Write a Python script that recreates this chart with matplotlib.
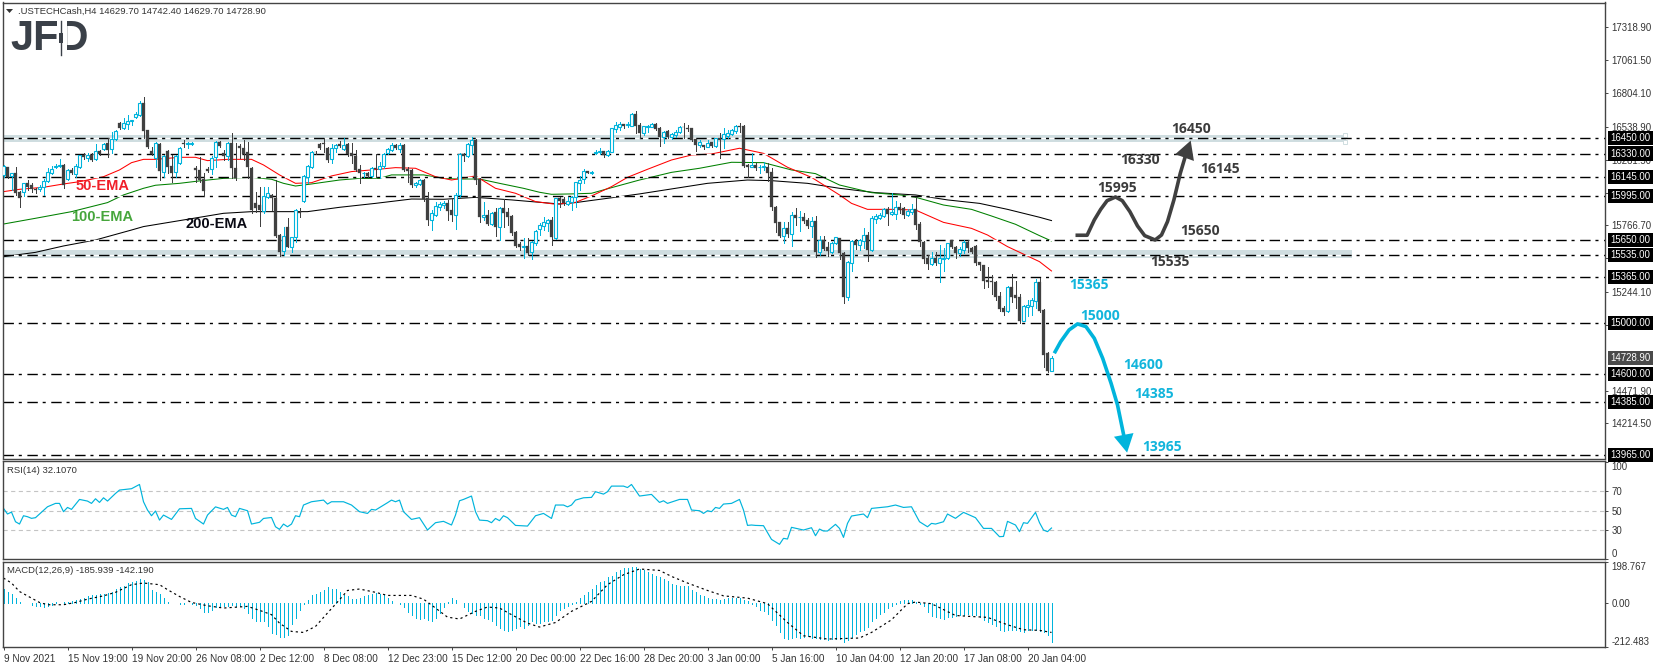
import numpy as np
import matplotlib
matplotlib.use("Agg")
import matplotlib.pyplot as plt
from matplotlib.patches import Rectangle, Polygon

plt.rcParams['font.family'] = ['Liberation Sans', 'DejaVu Sans']
plt.rcParams['lines.scale_dashes'] = False

W, H = 1655, 668

# velas H4
opens = [
    16163,16223,16155,16180,16032,16032,16103,16084,16050,16053,
    16071,16115,16175,16225,16230,16241,16129,16202,16170,16223,
    16319,16293,16319,16285,16350,16366,16411,16364,16445,16573,
    16528,16565,16585,16620,16633,16724,16515,16350,16293,16406,
    16189,16350,16233,16183,16260,16416,16403,16406,16220,16202,
    16131,16207,16210,16300,16424,16338,16314,16416,16220,16393,
    16372,16345,16220,15940,15927,15883,15993,16006,15985,15692,
    15569,15752,15601,15674,15875,15960,16149,16228,16345,16403,
    16416,16372,16285,16372,16403,16364,16406,16332,16311,16207,
    16176,16181,16157,16215,16207,16236,16332,16359,16398,16366,
    16400,16210,16202,16084,16092,16123,15980,15810,15849,15909,
    15927,15940,15888,15849,16002,16327,16315,16398,16437,16131,
    15836,15849,15778,15875,15758,15901,15870,15841,15713,15621,
    15595,15606,15556,15630,15737,15763,15789,15810,15671,15980,
    15975,15935,15953,15987,16102,16129,16194,16179,16332,16345,
    16350,16319,16345,16520,16541,16560,16552,16549,16640,16555,
    16490,16541,16541,16562,16528,16463,16507,16458,16476,16502,
    16541,16528,16528,16442,16400,16398,16385,16419,16390,16450,
    16442,16470,16484,16507,16547,16547,16241,16225,16241,16226,
    16222,16228,16189,15914,15792,15684,15747,15700,15849,15832,
    15831,15810,15763,15802,15561,15653,15601,15561,15627,15666,
    15554,15204,15475,15645,15614,15648,15692,15575,15815,15828,
    15841,15893,15857,15857,15909,15906,15849,15872,15896,15776,
    15640,15515,15465,15515,15470,15505,15510,15653,15600,15548,
    15575,15637,15590,15606,15480,15457,15340,15332,15327,15214,
    15118,15099,15285,15222,15204,15020,15125,15136,15178,15324,
    15104,14764,14629.7]
highs = [
    16240,16225,16180,16223,16035,16103,16123,16097,16060,16084,
    16129,16215,16233,16250,16285,16245,16212,16215,16250,16320,
    16332,16332,16332,16403,16359,16411,16450,16497,16515,16580,
    16607,16633,16595,16660,16743,16775,16515,16380,16420,16411,
    16320,16359,16319,16320,16380,16437,16419,16419,16233,16306,
    16175,16223,16311,16432,16430,16359,16424,16489,16411,16406,
    16437,16424,16225,16032,16071,16071,16071,16010,16123,15700,
    15758,15823,15680,15893,15901,16162,16240,16350,16350,16411,
    16450,16385,16406,16406,16425,16450,16416,16411,16359,16241,
    16189,16189,16228,16327,16267,16332,16372,16411,16403,16416,
    16406,16228,16207,16110,16131,16131,16027,15888,15953,15953,
    15961,15966,15974,16019,16338,16338,16411,16463,16445,16136,
    15953,15888,15875,15901,15909,15972,15901,15849,15720,15640,
    15666,15666,15645,15735,15785,15835,15815,15835,15985,15993,
    15988,15990,15998,16110,16155,16207,16196,16192,16355,16372,
    16352,16355,16533,16580,16580,16562,16580,16651,16664,16568,
    16550,16555,16572,16572,16535,16510,16515,16489,16515,16548,
    16568,16555,16533,16445,16437,16400,16437,16424,16455,16489,
    16528,16515,16520,16555,16568,16555,16245,16332,16260,16241,
    16267,16260,16215,15916,15797,15797,15797,15875,15906,15880,
    15862,15823,15836,15841,15684,15684,15640,15637,15679,15670,
    15558,15485,15650,15658,15658,15745,15718,15841,15854,15862,
    15901,15914,16019,15961,15940,15914,15893,15933,15993,15797,
    15645,15535,15561,15556,15614,15588,15630,15655,15606,15601,
    15653,15653,15601,15614,15483,15460,15444,15379,15330,15248,
    15136,15292,15386,15334,15230,15142,15180,15196,15345,15353,
    15110,14777,14742.4]
lows = [
    16150,16135,16045,16005,15910,16000,16045,16032,16025,16040,
    16005,16110,16170,16215,16222,16060,16123,16170,16145,16220,
    16288,16275,16272,16280,16320,16359,16306,16332,16440,16520,
    16520,16520,16555,16612,16625,16450,16377,16320,16223,16123,
    16145,16176,16105,16145,16245,16379,16372,16395,16110,16105,
    16000,16189,16170,16223,16385,16280,16280,16136,16123,16293,
    16280,16136,15862,15875,15763,15862,15985,15888,15675,15530,
    15535,15595,15555,15640,15830,15953,16097,16220,16330,16364,
    16345,16267,16254,16345,16385,16359,16311,16254,16190,16097,
    16144,16150,16150,16150,16136,16215,16325,16354,16364,16345,
    16190,16110,16066,16066,16084,15961,15770,15731,15841,15888,
    15901,15810,15805,15739,15993,16275,16306,16327,16092,15797,
    15810,15771,15771,15684,15653,15752,15771,15692,15595,15575,
    15510,15535,15505,15610,15690,15730,15720,15614,15660,15914,
    15927,15925,15888,15914,16045,16102,16176,16170,16325,16327,
    16306,16312,16340,16500,16515,16528,16541,16545,16495,16455,
    16476,16500,16535,16515,16392,16416,16450,16442,16463,16495,
    16450,16510,16430,16350,16385,16364,16380,16385,16380,16293,
    16377,16450,16476,16489,16500,16225,16144,16222,16202,16181,
    16202,16118,15885,15718,15674,15632,15680,15609,15770,15724,
    15789,15750,15679,15522,15535,15575,15528,15548,15620,15504,
    15162,15183,15410,15580,15575,15593,15488,15570,15784,15815,
    15836,15770,15850,15815,15862,15828,15841,15857,15737,15606,
    15470,15426,15460,15460,15326,15410,15500,15590,15514,15528,
    15548,15560,15554,15457,15418,15274,15287,15230,15183,15099,
    15065,15091,15170,15118,15000,15015,15057,15065,15120,15087,
    14660,14615,14629.7]
closes = [
    16233,16144,16175,16019,15985,16097,16071,16050,16042,16071,
    16118,16183,16212,16236,16238,16084,16202,16176,16230,16317,
    16306,16319,16280,16350,16325,16406,16359,16445,16510,16528,
    16573,16583,16593,16640,16730,16510,16385,16325,16411,16194,
    16314,16228,16181,16311,16372,16406,16411,16411,16202,16123,
    16040,16197,16293,16424,16393,16314,16416,16215,16136,16372,
    16327,16223,15888,15901,15888,16000,16019,15985,15684,15561,
    15684,15601,15674,15888,15862,16157,16233,16345,16340,16372,
    16406,16280,16372,16398,16393,16400,16327,16311,16202,16176,
    16181,16155,16215,16207,16236,16325,16364,16398,16372,16398,
    16202,16197,16084,16103,16123,15972,15810,15862,15920,15935,
    15940,15880,15849,16006,16327,16315,16406,16437,16123,15831,
    15849,15778,15862,15758,15901,15862,15836,15705,15606,15601,
    15606,15549,15640,15725,15771,15797,15810,15679,15980,15961,
    15940,15959,15993,16105,16123,16194,16181,16184,16345,16352,
    16319,16350,16528,16555,16565,16547,16560,16640,16549,16495,
    16547,16549,16562,16520,16463,16502,16463,16481,16502,16541,
    16535,16520,16437,16398,16421,16380,16411,16390,16450,16437,
    16484,16494,16515,16547,16536,16233,16225,16241,16215,16228,
    16233,16181,15909,15789,15684,15747,15700,15846,15828,15834,
    15802,15763,15802,15556,15653,15582,15567,15630,15674,15549,
    15204,15481,15645,15614,15653,15692,15575,15823,15840,15849,
    15893,15857,15875,15909,15888,15849,15880,15896,15771,15640,
    15504,15465,15509,15470,15509,15512,15627,15595,15548,15582,
    15637,15588,15562,15475,15457,15334,15327,15321,15204,15112,
    15091,15287,15209,15196,15018,15136,15141,15183,15321,15100,
    14750,14628,14728.9]

# medias moviles
ema50_x = [0,4,10,15,19,25,29,32,35,38,44,48,51,56,62,65,69,73,77,82,87,92,98,103,108,112,118,123,128,133,
           138,143,147,152,156,161,167,172,177,184,190,196,202,209,212,216,222,228,235,242,246,251,259,262]
ema50_y = [16032,16050,16066,16092,16110,16149,16202,16259,16285,16285,16301,16301,16275,16285,16285,16241,16163,16097,16102,16155,
           16189,16202,16220,16215,16149,16123,16155,16058,16019,15954,
           15933,15948,15998,16071,16144,16207,16280,16319,16327,16372,16332,16223,16144,16006,15940,15893,15893,15888,15791,15744,15692,15601,15483,15410]
ema100_x = [0,8,17,26,30,35,38,44,49,55,62,67,70,73,77,84,89,94,97,105,110,114,119,124,130,134,137,142,147,152,159,167,174,182,190,197,203,209,217,224,228,235,242,247,253,259,262]
ema100_y = [15778,15823,15875,15946,16006,16058,16082,16097,16116,16136,16144,16129,16097,16076,16092,16123,16136,16136,16163,16163,16136,16131,16131,16097,16058,
            16027,16011,16014,16019,16063,16123,16183,16215,16262,16259,16202,16173,16084,16024,16006,15988,15927,15893,15841,15776,15687,15645]
ema200_x = [0,8,15,23,32,35,46,55,62,70,76,84,93,102,110,118,127,139,143,153,159,167,176,186,192,201,209,218,228,236,244,251,259,262]
ema200_y = [15522,15556,15606,15653,15731,15758,15815,15862,15875,15875,15875,15909,15940,15974,15972,15987,15967,15935,
            15946,15988,16014,16053,16097,16123,16118,16097,16058,16024,16006,15967,15940,15893,15831,15805]

# niveles
levels = [16450,16330,16145,15995,15650,15535,15365,15000,14600,14385,13965]
zone_upper = (16424, 16476)
zone_lower = (15515, 15575)

price_ticks = [17318.90,17061.50,16804.10,16538.90,16281.50,16024.10,15766.70,15509.30,15244.10,14986.70,14471.90,14214.50]

# RSI
rsi_x = [0,1,2,3,4,5,6,7,8,9,11,13,14,15,16,17,19,21,22,23,24,25,26,28,29,32,34,35,36,37,38,39,40,42,44,47,48,50,51,53,55,56,57,58,59,61,62,64,65,67,68,69,70,71,72,73,74,75,77,80,81,82,85,87,89,91,92,93,96,97,98,99,100,102,104,106,108,110,112,113,114,115,117,118,119,121,122,123,124,125,126,128,131,133,
         135,137,138,140,141,142,143,145,147,148,150,151,152,155,156,157,159,162,164,165,166,169,171,172,174,175,176,177,178,179,180,182,184,185,186,187,188,190,192,194,195,196,197,200,202,203,204,205,206,208,209,210,211,212,215,216,217,221,223,225,227,229,231,232,233,235,236,238,240,243,245,247,249,250,251,253,254,255,256,258,259,260,261,262]
rsi_y = [52.4,46.6,48.6,38.6,36.2,44.8,43.8,42.1,42.8,46.6,54.1,57.6,57.6,49,53.4,51.4,61.7,60,57.6,62.4,58.6,63.4,60,67.9,71.4,72.8,77.2,59.3,50.7,44.8,49.7,40.3,45.5,41,52,52.4,42,36.2,45.5,54,51.4,53.4,45.5,43.8,52.4,50,36.2,38,42,43,33.4,30.7,36.2,33.4,36.2,44.8,43.8,55.9,59.3,61,56.9,59.3,59.3,55.9,49,47.2,51.4,50.7,58.3,61,59.3,61,49,41,42.8,30,37.6,39,35.2,45.5,60.3,61.7,65.2,49,40.3,39.7,37.6,42,39.7,44.8,42.8,34.8,34.1,44.8,
         47.2,42,55.9,55.9,54,55.9,61,63.4,63.8,69.7,67.2,69.7,75.5,75.5,74,77.2,65.2,66.9,58.6,60.3,57.6,61.7,61.7,50.7,50,47.2,50,49,53.4,52.4,56.9,57.6,61.7,50.7,34.8,35.2,34.8,34.5,20.3,15.2,21.4,20.7,32.8,30,32.4,24.1,31,29,29,35.9,31.7,22.4,36.9,44.5,46.6,42.8,52.4,54.1,55.9,53.4,54.1,38.6,33.4,36.9,36.2,38.6,46.6,42.1,48.3,42.8,31.7,31.7,23.1,23.4,39,35.2,28.3,37.6,36.9,48.3,37.6,30,28.3,32.1]
rsi_levels = [70, 50, 30]

# MACD
macd_hist = [
    68,53,45,27,6,0,-2,-8,-13,-16,
    -19,-16,-8,3,0,3,5,8,16,21,
    24,32,37,37,44,45,48,56,68,77,
    84,97,100,108,116,110,100,65,56,45,
    24,3,2,0,-3,-5,0,-3,-8,-24,
    -44,-45,-32,-21,-16,-13,-16,-11,-13,-16,
    -24,-48,-73,-89,-89,-89,-113,-145,-150,-166,
    -166,-153,-103,-73,-32,-3,16,39,45,52,
    65,77,68,68,56,40,32,21,19,24,
    32,40,45,48,45,37,24,8,0,-3,
    -19,-45,-56,-73,-77,-73,-84,-89,-73,-48,
    -19,3,24,16,0,-19,-40,-48,-60,-60,
    -73,-77,-85,-105,-121,-129,-134,-129,-121,-113,
    -121,-105,-89,-97,-94,
    -89,-89,-81,-56,-35,-24,-13,-3,3,24,
    37,56,68,89,102,108,126,132,148,161,
    169,169,176,173,165,158,148,142,132,124,
    116,105,92,89,84,84,81,65,52,40,
    32,24,21,21,16,19,24,27,27,24,
    16,8,-3,-16,-32,-40,-52,-81,-108,-140,
    -169,-173,-169,-165,-169,-165,-161,-169,-169,-173,
    -173,-177,-173,-173,-174,-190,-181,-165,-150,-137,
    -129,-116,-89,-73,-52,-45,-24,-16,-3,8,
    13,15,15,3,-3,-16,-45,-61,-68,-73,
    -76,-69,-65,-61,-60,-56,-53,-56,-56,-69,
    -84,-92,-102,-113,-129,-134,-129,-129,-132,-134,
    -139,-129,-129,-129,-137,-142,-155,-186]
signal_x = [0,2,4,7,9,11,15,18,21,25,28,32,35,39,41,44,47,51,55,61,64,67,69,72,75,78,81,84,86,89,93,96,102,105,108,111,114,118,121,124,127,131,134,138,142,147,151,155,159,164,167,171,176,180,186,191,196,200,206,214,217,222,226,228,232,238,242,246,251,255,259,262]
signal_y = [121,97,56,24,3,-8,-8,3,19,35,52,89,97,89,65,32,3,-13,-24,-16,-35,-56,-97,-137,-142,-113,-48,16,61,68,52,37,37,19,-24,-68,-77,-40,-19,-24,-56,-97,-116,-94,-40,8,89,137,165,158,129,97,61,35,24,-3,-94,-158,-174,-169,-142,-81,-3,5,-3,-60,-65,-69,-105,-129,-132,-142]

# eje de tiempo
time_labels = ["9 Nov 2021","15 Nov 19:00","19 Nov 20:00","26 Nov 08:00","2 Dec 12:00","8 Dec 08:00","12 Dec 23:00",
               "15 Dec 12:00","20 Dec 00:00","22 Dec 16:00","28 Dec 20:00","3 Jan 00:00","5 Jan 16:00","10 Jan 04:00",
               "12 Jan 20:00","17 Jan 08:00","20 Jan 04:00"]

# flechas del escenario
up_path_x = [268,270.9,272.7,274.3,275.9,278,279.7,281.6,283.5,285.3,287.9,289.5,291,292.6,294.2,295.8]
up_path_y = [15690,15690,15810,15893,15961,15990,15961,15875,15763,15687,15653,15692,15797,15967,16176,16345]
down_path_x = [262.7,264.3,266.4,268.5,270.6,272.7,274.8,276.9,278.5,279.7,280.3]
down_path_y = [14765,14856,14948,14995,14974,14882,14725,14529,14360,14177,14085]

CYAN = '#00b4dc'
DARK = '#404040'
FRAME = '#444444'
BAND = '#cfdde0'


def panel(top, bottom, left=2.5, right=1604.5):
    ax = fig.add_axes([left / W, 1 - bottom / H, (right - left) / W, (bottom - top) / H])
    for s in ax.spines.values():
        s.set_color(FRAME)
        s.set_linewidth(1.0)
    ax.set_xlim(-0.25, 400.25)
    ax.yaxis.tick_right()
    ax.tick_params(axis='y', length=2.5, width=0.7, color=FRAME, labelsize=6.9, pad=2.5, labelcolor='#333333')
    ax.set_xticks([])
    return ax


fig = plt.figure(figsize=(W / 100, H / 100), dpi=100, facecolor='white')
ax_main = panel(2.5, 458.5)
ax_rsi = panel(461, 559)
ax_macd = panel(562, 647)

# panel principal
ax_main.set_ylim(13940, 17514.5)
ax_main.axhspan(*zone_upper, xmax=(335.5 + 0.25) / 400.5, color=BAND, lw=0, zorder=0)
ax_main.axhspan(*zone_lower, xmax=(337 + 0.25) / 400.5, color=BAND, lw=0, zorder=0)
ax_main.plot([335.3, 335.3], zone_upper, ls='', marker='s', ms=3, mfc='white', mec=BAND, mew=0.7, zorder=1)

ax_main.plot(ema200_x, ema200_y, color='black', lw=0.75, zorder=1)
ax_main.plot(ema100_x, ema100_y, color='#008000', lw=0.75, zorder=1)
ax_main.plot(ema50_x, ema50_y, color='#ff0000', lw=0.75, zorder=1)

for lv in levels:
    ax_main.axhline(lv, color='black', lw=1.0, ls=(0, (7.5, 3.5, 2.2, 4.0)), gapcolor='white', zorder=2)

x = np.arange(len(opens))
o, h, l, c = map(np.array, (opens, highs, lows, closes))
assert len(o) == len(h) == len(l) == len(c) == 263
up = c >= o
ax_main.vlines(x[up], l[up], h[up], color=CYAN, lw=0.68, antialiased=False, zorder=3)
ax_main.vlines(x[~up], l[~up], h[~up], color=DARK, lw=0.68, antialiased=False, zorder=3)
ax_main.bar(x[up], (c - o)[up], bottom=o[up], width=0.55, facecolor='white', edgecolor=CYAN, linewidth=0.8, zorder=4)
ax_main.bar(x[~up], (c - o)[~up], bottom=o[~up], width=0.72, facecolor=DARK, edgecolor=DARK, linewidth=0.2, zorder=4)

# flechas
ax_main.plot(up_path_x, up_path_y, color=DARK, lw=2.6, solid_capstyle='butt', solid_joinstyle='round', zorder=5)
ax_main.annotate('', xy=(296.8, 16432), xytext=(295.8, 16345), zorder=5,
                 arrowprops=dict(arrowstyle='-|>,head_length=1.0,head_width=0.55', color=DARK, lw=0, mutation_scale=13, shrinkA=0, shrinkB=0))
ax_main.plot(down_path_x, down_path_y, color=CYAN, lw=2.6, solid_capstyle='butt', solid_joinstyle='round', zorder=5)
ax_main.annotate('', xy=(280.9, 13986), xytext=(280.3, 14085), zorder=5,
                 arrowprops=dict(arrowstyle='-|>,head_length=1.0,head_width=0.55', color=CYAN, lw=0, mutation_scale=13, shrinkA=0, shrinkB=0))

ax_main.set_yticks(price_ticks)
ax_main.set_yticklabels([f"{t:.2f}" for t in price_ticks])

# etiquetas negras de precio
for lv in levels:
    ax_main.text(1.0038, lv, f"{lv:.2f}", transform=ax_main.get_yaxis_transform(), color='white', fontsize=6.9,
                 va='center', ha='left', zorder=20, clip_on=False,
                 bbox=dict(boxstyle='square,pad=0.22', fc='black', ec='none'))
ax_main.text(1.0038, closes[-1], f"{closes[-1]:.2f}", transform=ax_main.get_yaxis_transform(), color='white', fontsize=6.9,
             va='center', ha='left', zorder=20, clip_on=False,
             bbox=dict(boxstyle='square,pad=0.22', fc='#4a4a4a', ec='none'))

# RSI
ax_rsi.set_ylim(0, 101.5)
for lv in rsi_levels:
    ax_rsi.axhline(lv, color='#c4c4c4', lw=0.8, ls=(0, (3, 2.5)))
ax_rsi.plot(rsi_x, rsi_y, color=CYAN, lw=0.85)
ax_rsi.set_yticks([100, 70, 50, 30, 0])
ax_rsi.set_yticklabels(['100', '70', '50', '30', '0'])
ax_rsi.get_yticklabels()[0].set_va('top')
ax_rsi.get_yticklabels()[-1].set_va('bottom')

# MACD
ax_macd.set_ylim(-212.483, 198.767)
ax_macd.vlines(np.arange(len(macd_hist)), 0, macd_hist, color=CYAN, lw=0.68, antialiased=False)
ax_macd.plot(signal_x, signal_y, color='black', lw=0.85, ls=(0, (1.6, 2.2)))
ax_macd.set_yticks([198.767, 0, -212.483])
ax_macd.set_yticklabels(['198.767', '0.00', '-212.483'])
ax_macd.get_yticklabels()[0].set_va('top')
ax_macd.get_yticklabels()[-1].set_va('bottom')

time_ticks = np.arange(len(time_labels)) * 16
ax_macd.set_xticks(time_ticks)
ax_macd.set_xticklabels(time_labels, ha='left', fontsize=7.2, color='#333333')
ax_macd.tick_params(axis='x', length=2.5, width=0.7, color=FRAME, pad=2.5)

# capa de textos en pixeles
ov = fig.add_axes([0, 0, 1, 1], zorder=30, facecolor='none')
ov.set_xlim(0, W)
ov.set_ylim(H, 0)
ov.axis('off')

ov.add_patch(Polygon([[6, 9], [13, 9], [9.5, 13]], closed=True, fc='#333333', ec='none'))
ov.text(18.5, 11, ".USTECHCash,H4 14629.70 14742.40 14629.70 14728.90", fontsize=6.8, color='#333333', va='center')
ov.text(7, 470.7, "RSI(14) 32.1070", fontsize=6.8, color='#333333', va='center')
ov.text(7, 570.7, "MACD(12,26,9) -185.939 -142.190", fontsize=6.8, color='#333333', va='center')

# logo
LOGO = '#3a4048'
ov.text(10, 38.5, "JFD", fontsize=30, fontweight='bold', color=LOGO, va='center', ha='left')
ov.add_patch(Rectangle((58.5, 18), 8, 40, fc='white', ec='none', zorder=4))
ov.plot([61, 61], [21, 55], color=LOGO, lw=1.0, zorder=5)
ov.add_patch(Rectangle((58.8, 33), 4.5, 10, fc=LOGO, ec='none', zorder=5))

# etiquetas de EMA
ov.text(102.5, 186, "50-EMA", color='#f0202a', fontsize=10.5, fontweight='bold', ha='center', va='center')
ov.text(102.5, 217, "100-EMA", color='#46a63c', fontsize=10.5, fontweight='bold', ha='center', va='center')
ov.text(217, 224, "200-EMA", color='#0a0a14', fontsize=10.5, fontweight='bold', ha='center', va='center')

# niveles del escenario
dark_labels = [("16450", 455, 87), ("16330", 333, 180), ("16145", 524, 207), ("15995", 278, 264), ("15650", 477, 393), ("15535", 405, 486)]
cyan_labels = [("15365", 211, 555), ("15000", 238, 649), ("14600", 340, 795), ("14385", 367, 882), ("13965", 386, 1041)]
for txt, xz, yz in dark_labels:
    ov.text(1000 + xz / 2.383, 100 + yz / 3, txt, color='#3c3c3c', fontsize=10, fontweight='bold',
            family='Open Sans', ha='center', va='center')
for txt, xz, yz in cyan_labels:
    ov.text(1000 + xz / 2.383, 100 + yz / 3, txt, color='#12b5dc', fontsize=10, fontweight='bold',
            family='Open Sans', ha='center', va='center')

fig.savefig('out.png', dpi=100, facecolor='white')
